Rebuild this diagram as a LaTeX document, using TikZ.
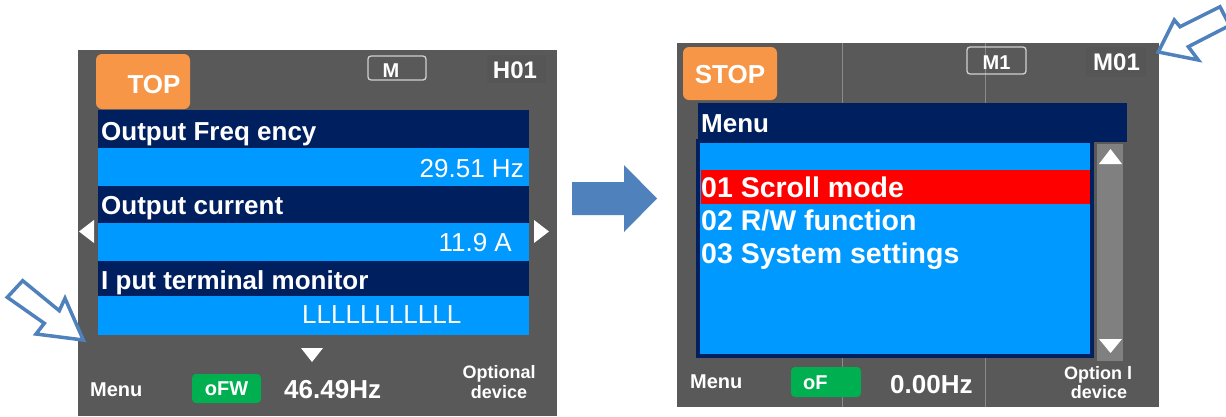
\documentclass[tikz,border=0pt]{standalone}
\usepackage{fontspec}
\setmainfont{Liberation Sans}
\definecolor{panel}{HTML}{595959}
\definecolor{panelD}{HTML}{565656}
\definecolor{navy}{HTML}{001F5F}
\definecolor{lblue}{HTML}{0099FF}
\definecolor{hired}{HTML}{FF0000}
\definecolor{orng}{HTML}{F79646}
\definecolor{grn}{HTML}{00B050}
\definecolor{arrblue}{HTML}{4F81BD}
\definecolor{gridl}{HTML}{8A8A8A}
\definecolor{boxl}{HTML}{D0D0D0}
\definecolor{sbar}{HTML}{808080}
\newcommand\myfs[1]{\fontsize{#1}{#1}\selectfont}
\tikzset{
  tb/.style={text=white, inner sep=0pt, font=\myfs{#1}\bfseries},
  tr/.style={text=white, inner sep=0pt, font=\myfs{#1}},
  hollow/.style={draw=arrblue, line width=3.5pt, line join=miter, fill=white},
}
\begin{document}
\begin{tikzpicture}[x=1pt,y=-1pt]
\useasboundingbox (0,0) rectangle (1226,416);
\clip (0,0) rectangle (1226,416);
\fill[white] (0,0) rectangle (1226,416);

% ================= LEFT PANEL =================
\fill[panel] (78,50) rectangle (557,416);
\fill[panelD] (487,55) rectangle (546,83);
\fill[orng, rounded corners=6pt] (96,54) rectangle (190,109);
\node[tb=26, anchor=base] (top) at (154,93) {TOP};
\draw[boxl, line width=1.3pt, rounded corners=3pt] (368,56) rectangle (426,80);
\node[tb=20, anchor=base] (mm) at (391,77) {M};
\node[tb=24, anchor=base] (h01) at (515,78) {H01};

\fill[navy]  (98,110) rectangle (529,148);
\fill[lblue] (98,148) rectangle (529,186);
\fill[navy]  (98,186) rectangle (529,223);
\fill[lblue] (98,223) rectangle (529,261);
\fill[navy]  (98,261) rectangle (529,296);
\fill[lblue] (98,296) rectangle (529,335);

\node[tb=26, anchor=base west] (r1) at (101,140) {Output Freq ency};
\node[tr=26, anchor=base east] (v1) at (524,177) {29.51 Hz};
\node[tb=26, anchor=base west] (r2) at (101,214) {Output current};
\node[tr=26, anchor=base east] (v2) at (512,251) {11.9 A};
\node[tb=26, anchor=base west] (r3) at (101,289) {I put terminal monitor};
\node[tr=26, anchor=base west] (v3) at (302,323) {LLLLLLLLLLL};

\fill[white] (94,220) -- (94,243) -- (79,231.5) -- cycle;
\fill[white] (534,220) -- (534,243) -- (549,231.5) -- cycle;
\fill[white] (301,348) -- (323,348) -- (312,362) -- cycle;

\node[tb=20, anchor=base west] (menuL) at (90,396) {Menu};
\fill[grn, rounded corners=4pt] (192,374) rectangle (261,403);
\node[tb=20, anchor=base] (ofw) at (226.5,395) {oFW};
\node[tb=26, anchor=base west] (hzL) at (284,398) {46.49Hz};
\node[tb=18, anchor=base] (opt1) at (499,378) {Optional};
\node[tb=18, anchor=base] (dev1) at (499,398) {device};

% hollow arrow, bottom left
\draw[hollow] (7.3,297.3) -- (22.7,280.7) -- (59.3,310.7) -- (65,298.3) -- (83.3,340)
  -- (36,334) -- (44.3,323.3) -- cycle;

% ================= BIG ARROW =================
\fill[arrblue] (572,182) -- (624,182) -- (624,165) -- (657,198.5) -- (624,232)
  -- (624,215) -- (572,215) -- cycle;

% ================= RIGHT PANEL =================
\fill[panel] (677,43) rectangle (1159,407);
\draw[gridl, line width=0.8pt] (842,43) -- (842,103) (985,43) -- (985,103)
  (842,358) -- (842,407) (985,358) -- (985,407);
\fill[panelD] (1086,47) rectangle (1146,77);
\fill[orng, rounded corners=6pt] (683,47) rectangle (777,100);
\node[tb=26, anchor=base] (stop) at (730,83) {STOP};
\draw[boxl, line width=1.3pt, rounded corners=3pt] (967,47) rectangle (1026,74);
\node[tb=20, anchor=base] (m1) at (996.5,69) {M1};
\node[tb=24, anchor=base] (m01) at (1116.5,70) {M01};

\fill[navy] (698,103) rectangle (1127,142);
\node[tb=26, anchor=base west] (menuH) at (701,132) {Menu};
\fill[navy] (696,139) rectangle (1094,358);
\fill[lblue] (700,143) rectangle (1090,354);
\fill[hired] (701,170) rectangle (1090,204);
\node[tb=28.5, anchor=base west] (i1) at (701,197) {01 Scroll mode};
\node[tb=28.5, anchor=base west] (i2) at (701,230) {02 R/W function};
\node[tb=28.5, anchor=base west] (i3) at (701,263) {03 System settings};

\fill[sbar] (1097,144) rectangle (1123,361);
\fill[white] (1099,164) -- (1122,164) -- (1110.5,149) -- cycle;
\fill[white] (1099,339) -- (1122,339) -- (1110.5,353) -- cycle;

\node[tb=20, anchor=base west] (menuR) at (690,388) {Menu};
\fill[grn, rounded corners=4pt] (791,367) rectangle (861,397);
\node[tb=20, anchor=base west] (of) at (803,389) {oF};
\node[tb=26, anchor=base west] (hzR) at (890,393) {0.00Hz};
\node[tb=18, anchor=base] (opt2) at (1098,379) {Option l};
\node[tb=18, anchor=base] (dev2) at (1099,398) {device};

% hollow arrow, top right
\draw[hollow] (1158.3,52) -- (1174.3,20) -- (1180,26.7) -- (1220,6.7)
  -- (1229.5,25.5) -- (1188.3,46.7) -- (1198.3,60) -- cycle;
\end{tikzpicture}
\end{document}
